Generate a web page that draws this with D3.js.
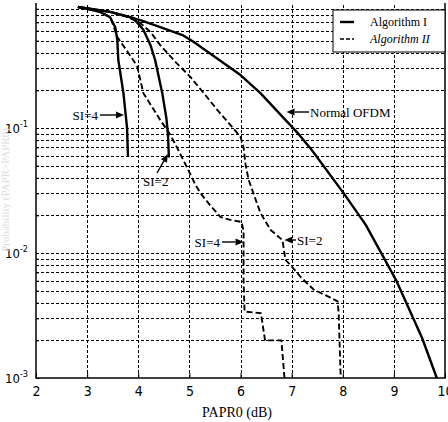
<!DOCTYPE html>
<html>
<head>
<meta charset="utf-8">
<script src="https://cdn.jsdelivr.net/npm/d3@7"></script>
<style>
  html, body { margin: 0; padding: 0; background: #fff; }
  svg { display: block; }
</style>
</head>
<body>
<div id="chart"></div>
<script>
"use strict";

// values (PAPR0 in dB, probability)
var normalX = [2.82, 3.45, 4.04, 4.43, 4.88, 5.08, 6.0, 6.39, 7.12, 7.39, 8.02, 8.45, 9.04, 9.55, 9.84];
var normalY = [0.93, 0.85, 0.73, 0.64, 0.55, 0.49, 0.265, 0.19, 0.091, 0.067, 0.030, 0.0168, 0.0061, 0.0021, 0.001];

var si4AlgIX = [2.82, 3.25, 3.45, 3.55, 3.59, 3.61, 3.71, 3.78, 3.80];
var si4AlgIY = [0.93, 0.85, 0.77, 0.64, 0.51, 0.35, 0.19, 0.101, 0.059];

var si2AlgIX = [2.82, 3.45, 3.90, 4.10, 4.24, 4.33, 4.47, 4.55, 4.58, 4.60];
var si2AlgIY = [0.93, 0.85, 0.76, 0.61, 0.46, 0.35, 0.19, 0.12, 0.09, 0.058];

var si4AlgIIX = [2.82, 3.25, 3.45, 3.51, 3.59, 3.90, 3.98, 4.10, 4.43, 4.63, 4.78, 4.98, 5.12, 5.22, 5.41, 5.61, 5.80, 6.02, 6.06, 6.06, 6.08, 6.40, 6.48, 6.80, 6.86];
var si4AlgIIY = [0.93, 0.85, 0.77, 0.667, 0.535, 0.35, 0.31, 0.19, 0.116, 0.088, 0.067, 0.046, 0.035, 0.030, 0.024, 0.0194, 0.0184, 0.0177, 0.0150, 0.0060, 0.0034, 0.0033, 0.0020, 0.0020, 0.001];

var si2AlgIIX = [2.82, 3.45, 3.80, 4.04, 4.24, 4.43, 4.73, 5.02, 5.31, 5.55, 5.80, 6.0, 6.06, 6.10, 6.16, 6.39, 6.59, 6.82, 6.88, 6.98, 7.18, 7.43, 7.76, 7.90, 7.92, 7.96];
var si2AlgIIY = [0.93, 0.85, 0.77, 0.69, 0.586, 0.46, 0.337, 0.256, 0.184, 0.139, 0.106, 0.085, 0.070, 0.0506, 0.0384, 0.0209, 0.0153, 0.0127, 0.0088, 0.0080, 0.0064, 0.0051, 0.0044, 0.0041, 0.0033, 0.001];

var xTicks = [2, 3, 4, 5, 6, 7, 8, 9, 10];
var yDecades = [0.001, 0.01, 0.1];
var yDecadeExp = ["-3", "-2", "-1"];
var legendLabels = ["Algorithm I", "Algorithm II"];

var SERIF = "'Liberation Serif', serif";
var NARROW = "'DejaVu Sans Condensed', sans-serif";

var W = 448, H = 422;
var svg = d3.select("#chart").append("svg").attr("width", W).attr("height", H);

var x = d3.scaleLinear().domain([2, 10]).range([36, 445]);
var y = d3.scaleLog().domain([0.001, 1]).range([378, 3]);

// grid lines: every minor log step and every integer dB
var minor = [];
[0.001, 0.01, 0.1].forEach(function(d){
    for (var k = 1; k <= 9; k++) minor.push(+(d * k).toPrecision(3));
});
var grid = svg.append("g").attr("stroke", "#000").attr("stroke-width", 1).attr("stroke-dasharray", "3,2");
grid.selectAll("line.h").data(minor.filter(function(v){ return v > 0.001; })).enter().append("line")
    .attr("x1", x(2)).attr("x2", x(10))
    .attr("y1", function(d){ return Math.round(y(d)) + 0.5; })
    .attr("y2", function(d){ return Math.round(y(d)) + 0.5; });
grid.selectAll("line.v").data(xTicks.slice(1, -1)).enter().append("line")
    .attr("y1", y(0.001)).attr("y2", y(1))
    .attr("x1", function(d){ return Math.round(x(d)) + 0.5; })
    .attr("x2", function(d){ return Math.round(x(d)) + 0.5; });

// frame
svg.append("path")
    .attr("d", "M" + x(2) + "," + y(1) + "V" + y(0.001) + "H" + x(10) + "V" + y(1))
    .attr("fill", "none").attr("stroke", "#000").attr("stroke-width", 1.5);

// ticks
var ax = d3.axisBottom(x).tickValues(xTicks).tickSize(-5).tickPadding(8).tickFormat(d3.format("d"));
var gx = svg.append("g").attr("transform", "translate(0," + y(0.001) + ")").call(ax);
gx.select(".domain").remove();
gx.selectAll("text").style("font-family", NARROW).style("font-size", "14px").attr("fill", "#000");

var ay = d3.axisLeft(y).tickValues(minor).tickSize(-3).tickFormat("");
var gy = svg.append("g").attr("transform", "translate(" + x(2) + ",0)").call(ay);
gy.select(".domain").remove();

var yl = svg.append("g").attr("fill", "#000");
yDecades.forEach(function(d, i){
    var t = yl.append("text").attr("x", 28).attr("y", y(d) + 5).attr("text-anchor", "end")
        .style("font-family", NARROW).style("font-size", "13px");
    t.append("tspan").text("10");
    t.append("tspan").attr("dy", -6).style("font-size", "9px").text(yDecadeExp[i]);
});

// axis labels
svg.append("text").attr("x", 237).attr("y", 417).attr("text-anchor", "middle")
    .style("font-family", SERIF).style("font-size", "14px").text("PAPR0 (dB)");
svg.append("text").attr("transform", "translate(9,190) rotate(-90)").attr("text-anchor", "middle")
    .style("font-family", SERIF).style("font-size", "11px").attr("fill", "#dcdcdc")
    .text("Probability (PAPR>PAPR0)");

// curves
var line = d3.line().x(function(d){ return x(d[0]); }).y(function(d){ return y(d[1]); });
var curves = [
    {xs: normalX, ys: normalY, dash: null},
    {xs: si4AlgIX, ys: si4AlgIY, dash: null},
    {xs: si2AlgIX, ys: si2AlgIY, dash: null},
    {xs: si4AlgIIX, ys: si4AlgIIY, dash: "6,3"},
    {xs: si2AlgIIX, ys: si2AlgIIY, dash: "6,3"}
];
svg.append("g").selectAll("path").data(curves).enter().append("path")
    .attr("d", function(c){ return line(d3.zip(c.xs, c.ys)); })
    .attr("fill", "none").attr("stroke", "#000")
    .attr("stroke-width", function(c){ return c.dash ? 1.9 : 2.4; })
    .attr("stroke-dasharray", function(c){ return c.dash; })
    .attr("stroke-linejoin", "round");

// annotations: text + arrow to the curve
var arrow = function(x1, y1, x2, y2){
    var a = Math.atan2(y2 - y1, x2 - x1), L = 8, w = 3.5;
    svg.append("line").attr("x1", x1).attr("y1", y1).attr("x2", x2 - Math.cos(a) * L).attr("y2", y2 - Math.sin(a) * L)
        .attr("stroke", "#000").attr("stroke-width", 1.4);
    var bx = x2 - Math.cos(a) * L, by = y2 - Math.sin(a) * L;
    svg.append("polygon").attr("fill", "#000").attr("points", [
        [x2, y2], [bx - Math.sin(a) * w, by + Math.cos(a) * w], [bx + Math.sin(a) * w, by - Math.cos(a) * w]
    ].map(function(p){ return p.join(","); }).join(" "));
};
var note = function(txt, tx, ty, anchor){
    svg.append("text").attr("x", tx).attr("y", ty).attr("text-anchor", anchor)
        .style("font-family", SERIF).style("font-size", "13px").text(txt);
};
note("SI=4", 98, 120, "end");
arrow(100, 115, x(3.72), 115);
note("SI=2", 143, 186, "start");
arrow(157, 173, x(4.58), y(0.062));
note("SI=4", 220, 247, "end");
arrow(222, 242, x(6.06), 242);
note("SI=2", 297, 245, "start");
arrow(296, 240, x(6.86), 240);
note("Normal OFDM", 310, 117, "start");
arrow(309, 112, x(6.9), 112);

// legend
var lg = svg.append("g").attr("transform", "translate(333,10)");
lg.append("rect").attr("width", 112).attr("height", 42).attr("fill", "#fff").attr("stroke", "#000").attr("stroke-width", 1);
lg.selectAll("line").data(legendLabels).enter().append("line")
    .attr("x1", 7).attr("x2", 21)
    .attr("y1", function(d, i){ return 12 + i * 17; }).attr("y2", function(d, i){ return 12 + i * 17; })
    .attr("stroke", "#000").attr("stroke-width", function(d, i){ return i ? 1.6 : 2.4; })
    .attr("stroke-dasharray", function(d, i){ return i ? "4,2" : null; });
lg.selectAll("text").data(legendLabels).enter().append("text")
    .attr("x", 37).attr("y", function(d, i){ return 16 + i * 17; })
    .style("font-family", SERIF).style("font-size", "12px")
    .style("font-style", function(d, i){ return i ? "italic" : "normal"; })
    .text(function(d){ return d; });
</script>
</body>
</html>
